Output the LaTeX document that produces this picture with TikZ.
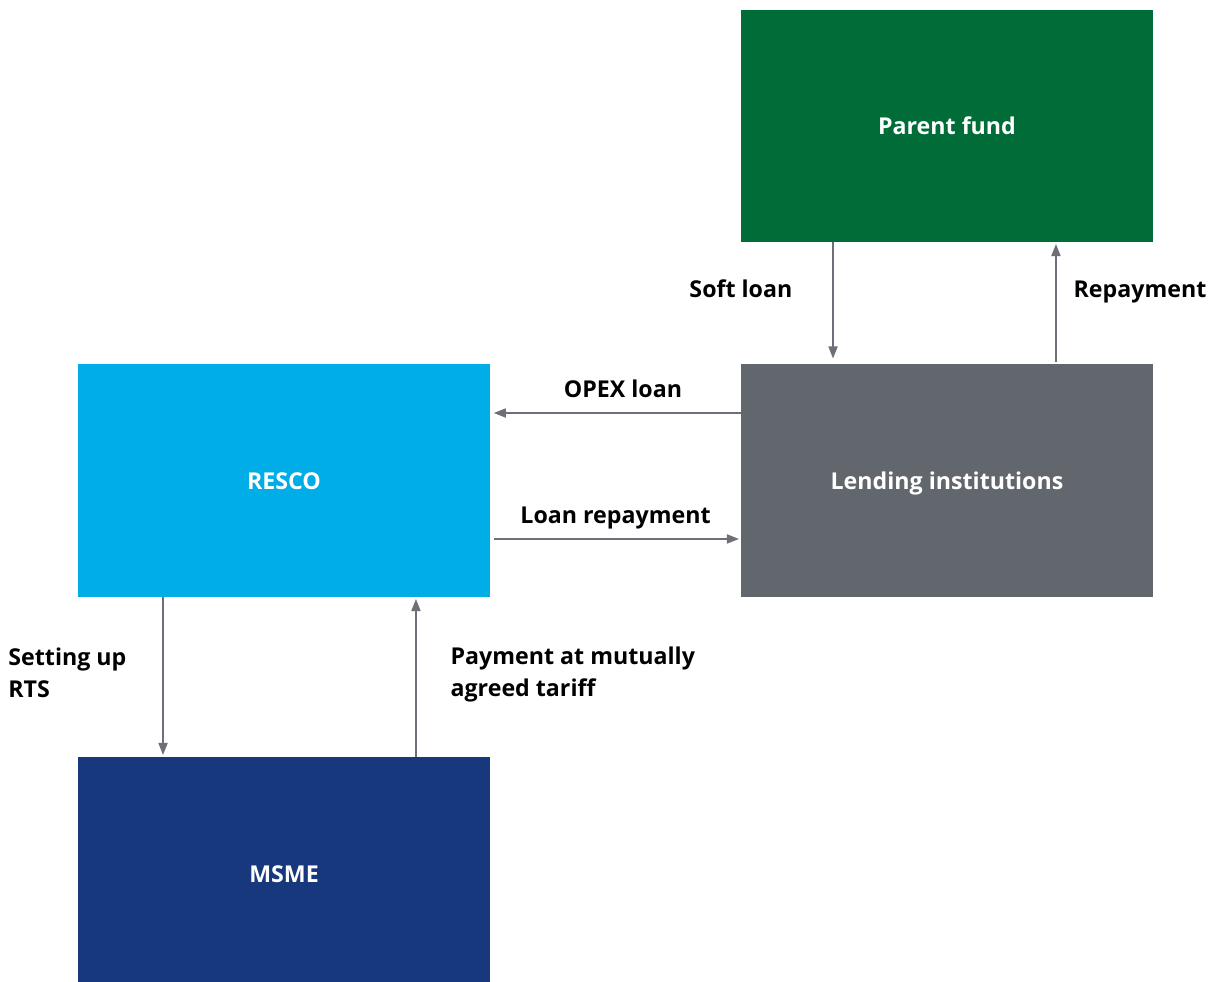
\documentclass[tikz,border=0pt]{standalone}
\usepackage{fontspec}
\setmainfont{Open Sans}
\usepackage{tikz}
\usetikzlibrary{arrows.meta,positioning}
\definecolor{fundgreen}{HTML}{006C38}
\definecolor{rescoblue}{HTML}{00ADE6}
\definecolor{lendgrey}{HTML}{62666D}
\definecolor{msmenavy}{HTML}{17387C}
\definecolor{arrgrey}{HTML}{6D7078}

\begin{document}
\begin{tikzpicture}[x=0.02cm, y=-0.02cm,
    box/.style={rectangle, draw=none, minimum width=8.24cm, minimum height=4.66cm,
                text height=1.2em, text depth=0.18em,
                align=center, text=white, font=\fontsize{13.2}{17}\selectfont\bfseries},
    arr/.style={-{Triangle[length=6.8pt, width=5.2pt]}, line width=0.75pt, arrgrey},
    lbl/.style={font=\fontsize{13.2}{18.2}\selectfont\bfseries, text=black, inner sep=0pt, align=left},
    one/.style={text height=1.1em, text depth=0.18em}
]
    \useasboundingbox (0,0) rectangle (1208,982);

    \node[box, fill=fundgreen, minimum height=4.64cm] (fund) at (947,126) {Parent fund};
    \node[box, fill=lendgrey] (lend) at (947,480.5) {Lending institutions};
    \node[box, fill=rescoblue] (resco) at (284,480.5) {RESCO};
    \node[box, fill=msmenavy] (msme) at (284,873.5) {MSME};

    \draw[arr, shorten >=3pt] ([xshift=-2.28cm]fund.south) -- node[lbl, one, pos=0.385, left=0.8cm] {Soft loan} ([xshift=-2.28cm]lend.north);
    \draw[arr, shorten <=1pt, shorten >=1pt] ([xshift=2.18cm]lend.north) -- node[lbl, one, pos=0.615, right=0.34cm] {Repayment} ([xshift=2.18cm]fund.south);
    \draw[arr, shorten >=2pt] ([yshift=1.35cm]lend.west) -- node[lbl, one, pos=0.47, above=0.23cm] {OPEX loan} ([yshift=1.35cm]resco.east);
    \draw[arr, shorten <=2pt, shorten >=1pt] ([yshift=-1.17cm]resco.east) -- node[lbl, one, pos=0.5, above=0.23cm] {Loan repayment} ([yshift=-1.17cm]lend.west);
    \draw[arr, shorten >=1pt] ([xshift=-2.42cm]resco.south) -- node[lbl, pos=0.475, left=0.72cm] {Setting up\\RTS} ([xshift=-2.42cm]msme.north);
    \draw[arr, shorten >=1pt] ([xshift=2.64cm]msme.north) -- node[lbl, pos=0.515, right=0.68cm] {Payment at mutually\\agreed tariff} ([xshift=2.64cm]resco.south);
\end{tikzpicture}
\end{document}
